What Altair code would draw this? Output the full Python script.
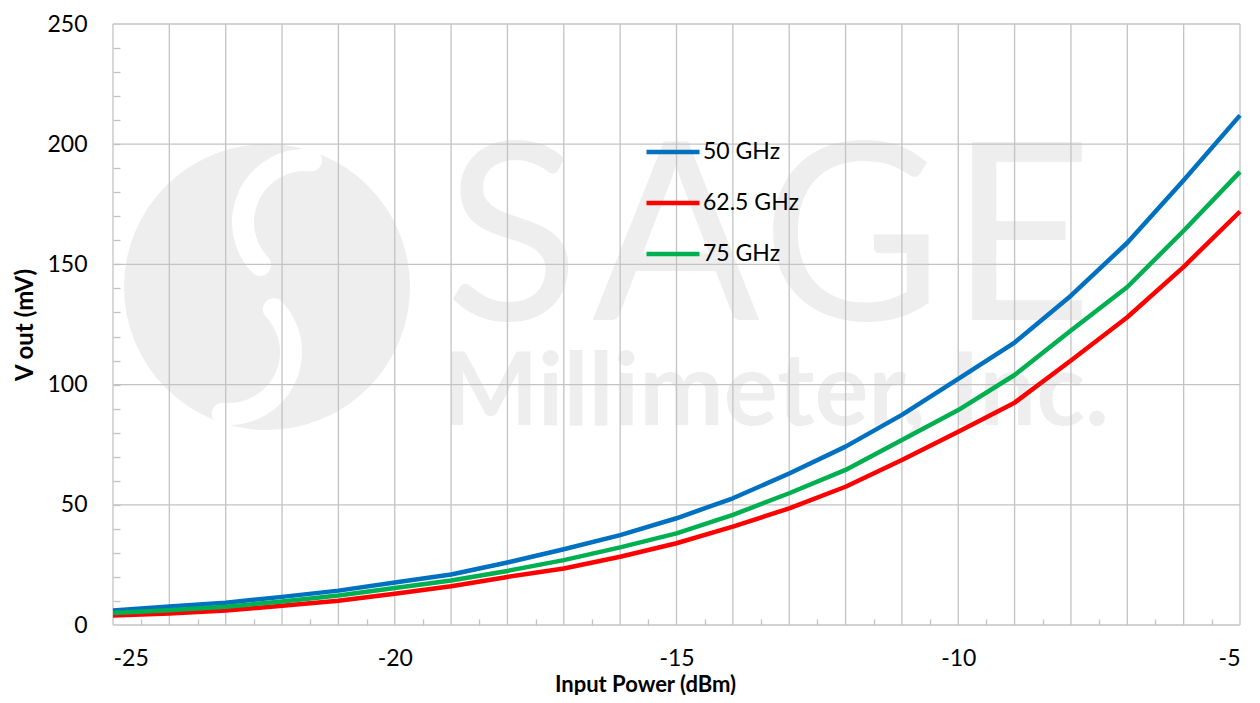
import altair as alt
import pandas as pd

# ---------------- data ----------------
power_dbm = list(range(-25, -4))
v_50ghz = [6.0, 7.7, 9.3, 11.7, 14.3, 17.7, 21.0, 26.0, 31.5, 37.4, 44.4,
           52.7, 63.0, 74.2, 87.4, 102.4, 117.5, 137.0, 159.0, 185.0, 212.0]
v_62_5ghz = [4.0, 4.8, 6.0, 8.0, 10.1, 13.0, 16.1, 20.0, 23.5, 28.4, 34.0,
             40.9, 48.5, 57.5, 68.6, 80.4, 92.5, 110.0, 128.0, 149.0, 172.0]
v_75ghz = [5.0, 6.1, 7.6, 9.8, 12.3, 15.4, 18.5, 22.5, 27.0, 32.3, 38.1,
           45.8, 54.8, 64.5, 77.0, 89.4, 104.0, 122.5, 140.6, 164.0, 188.5]
series_names = ["50 GHz", "62.5 GHz", "75 GHz"]
series_colors = ["#0070C0", "#FF0000", "#00B050"]

x_grid = list(range(-25, -4))
y_grid = [0, 50, 100, 150, 200, 250]
x_labels = [-25, -20, -15, -10, -5]
x_minor = [v + 0.5 for v in range(-25, -5)]
y_minor = list(range(10, 250, 10))

wm_letters = ["S", "A", "G", "E"]

rows = []
for name, vals in zip(series_names, [v_50ghz, v_62_5ghz, v_75ghz]):
    for p, v in zip(power_dbm, vals):
        rows.append({"power": p, "vout": v, "series": name})
df = pd.DataFrame(rows)

GRID = "#c3c3c3"
WM = "#eeeeee"
FONT = "Lato"

xscale = alt.Scale(domain=[-25, -5], nice=False, zero=False)
yscale = alt.Scale(domain=[0, 250], nice=False)

one = pd.DataFrame({"k": [0]})

# ---------------- watermark (background logo) ----------------
wm_circle = alt.Chart(one).mark_arc(radius=143, theta=0, theta2=6.2832, color=WM).encode(
    x=alt.value(154), y=alt.value(263))
wm_s1 = alt.Chart(one).mark_arc(radius=73, radius2=51, theta=3.77, theta2=6.56,
                                 cornerRadius=11, color="white").encode(
    x=alt.value(192), y=alt.value(198))
wm_s2 = alt.Chart(one).mark_arc(radius=73, radius2=51, theta=0.63, theta2=3.42,
                                 cornerRadius=11, color="white").encode(
    x=alt.value(116), y=alt.value(328))
wm_letter_x = [399, 563, 739, 908]
wm_sage = [
    alt.Chart(one).mark_text(text=ch, font=FONT, fontSize=248, fontWeight="normal",
                             color=WM, align="center", baseline="alphabetic").encode(
        x=alt.value(px), y=alt.value(296))
    for ch, px in zip(wm_letters, wm_letter_x)
]
wm_mm = alt.Chart(one).mark_text(text="Millimeter, Inc.", font=FONT, fontSize=101,
                                 fontWeight="bold", color=WM, align="left",
                                 baseline="alphabetic").encode(
    x=alt.value(330), y=alt.value(401))

# ---------------- grid ----------------
vgrid = alt.Chart(pd.DataFrame({"gx": x_grid})).mark_rule(color=GRID, strokeWidth=1.3).encode(
    x=alt.X("gx:Q", scale=xscale, axis=None))
hgrid = alt.Chart(pd.DataFrame({"gy": y_grid})).mark_rule(color=GRID, strokeWidth=1.3).encode(
    y=alt.Y("gy:Q", scale=yscale, axis=None))

# minor (inward) ticks
minor = alt.Chart(pd.DataFrame({"mx": [-25.0], "my": [0.0]})).mark_point(opacity=0).encode(
    x=alt.X("mx:Q", scale=xscale, axis=alt.Axis(
        orient="bottom", values=x_minor, offset=-6, tickSize=6, ticks=True,
        tickColor=GRID, tickWidth=1.3, labels=False, domain=False, grid=False, title=None)),
    y=alt.Y("my:Q", scale=yscale, axis=alt.Axis(
        orient="left", values=y_minor, offset=-7, tickSize=7, ticks=True,
        tickColor=GRID, tickWidth=1.3, labels=False, domain=False, grid=False, title=None)),
)

# ---------------- lines ----------------
lines = alt.Chart(df).mark_line(strokeWidth=4.5, strokeJoin="round").encode(
    x=alt.X("power:Q", scale=xscale, axis=alt.Axis(
        orient="bottom", values=x_labels, labelExpr="'' + datum.value", ticks=False, tickSize=0,
        domain=False, grid=False, labelFont=FONT, labelFontSize=23, labelColor="#000000",
        labelPadding=22, title="Input Power (dBm)", titleFont=FONT, titleFontSize=22,
        titleFontWeight="bold", titleColor="#000000", titlePadding=4, titleX=532)),
    y=alt.Y("vout:Q", scale=yscale, axis=alt.Axis(
        orient="left", values=y_grid, format="d", ticks=False, tickSize=0,
        domain=False, grid=False, labelFont=FONT, labelFontSize=23, labelColor="#000000",
        labelPadding=26, title="V out (mV)", titleFont=FONT, titleFontSize=24,
        titleFontWeight="bold", titleColor="#000000", titlePadding=9)),
    color=alt.Color("series:N", scale=alt.Scale(domain=series_names, range=series_colors),
                    legend=alt.Legend(
                        title=None, orient="none", legendX=531, legendY=99,
                        symbolType="stroke", symbolStrokeWidth=4.5, symbolSize=2809,
                        labelFont=FONT, labelFontSize=23, labelColor="#000000",
                        labelOffset=1, rowPadding=10, padding=0)),
)

chart = alt.layer(
    wm_circle, wm_s1, wm_s2, *wm_sage, wm_mm, vgrid, hgrid, minor, lines
).resolve_axis(x="independent", y="independent").properties(
    width=1127, height=601,
    autosize=alt.AutoSizeParams(type="none"),
    padding={"left": 105, "top": 16, "right": 12, "bottom": 70},
).configure_view(stroke=None)

chart.save("out.html", embed_options={"renderer": "svg", "actions": False})
